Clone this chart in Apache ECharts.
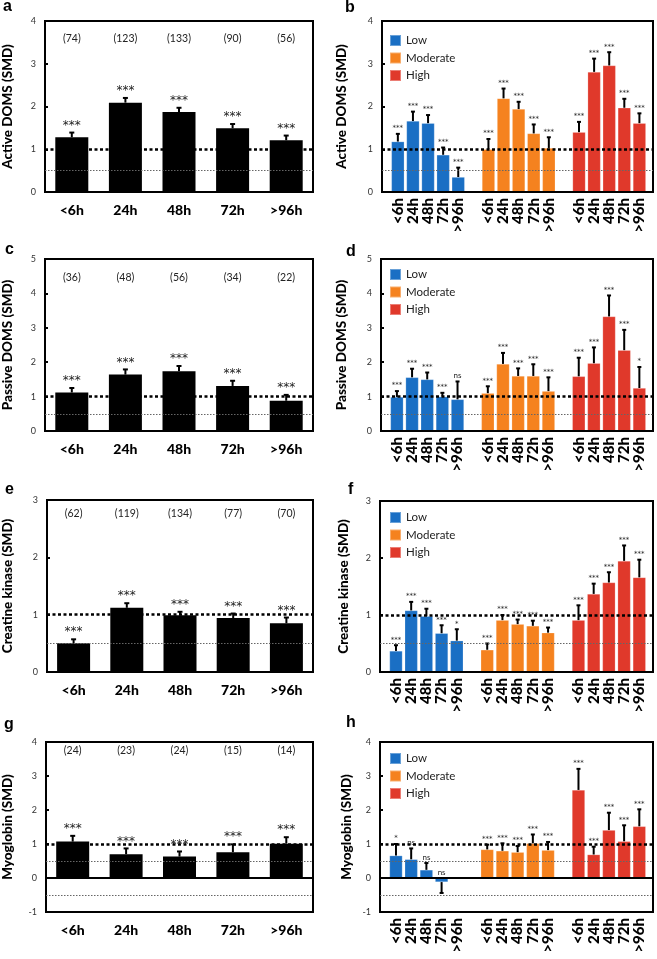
<!DOCTYPE html>
<html><head><meta charset="utf-8">
<script src="https://cdn.jsdelivr.net/npm/echarts@6/dist/echarts.min.js"></script>
<style>html,body{margin:0;padding:0;background:#fff}#c{width:657px;height:959px}</style>
</head><body><div id="c"></div>
<script>
const timeLabels = ['<6h','24h','48h','72h','>96h'];
const groupNames = ['Low','Moderate','High'];
const groupColors = ['#1a6fc4','#f5821f','#e0392b'];

// a: Active DOMS, all
const activeAll = [1.28,2.09,1.87,1.49,1.21];
const activeAllErr = [1.39,2.20,1.97,1.59,1.32];
const activeAllN = [74,123,133,90,56];
const activeAllSig = ['***','***','***','***','***'];
// b: Active DOMS by intensity
const activeLow = [1.18,1.66,1.61,0.87,0.35];
const activeLowErr = [1.36,1.88,1.80,1.04,0.57];
const activeLowSig = ['***','***','***','***','***'];
const activeMod = [1.00,2.19,1.94,1.37,1.03];
const activeModErr = [1.24,2.42,2.11,1.58,1.28];
const activeModSig = ['***','***','***','***','***'];
const activeHigh = [1.40,2.81,2.96,1.97,1.61];
const activeHighErr = [1.64,3.12,3.27,2.18,1.84];
const activeHighSig = ['***','***','***','***','***'];

// c: Passive DOMS, all
const passiveAll = [1.12,1.64,1.74,1.31,0.88];
const passiveAllErr = [1.25,1.79,1.89,1.46,1.05];
const passiveAllN = [36,48,56,34,22];
const passiveAllSig = ['***','***','***','***','***'];
// d
const passiveLow = [0.99,1.56,1.50,1.00,0.92];
const passiveLowErr = [1.16,1.81,1.70,1.11,1.44];
const passiveLowSig = ['***','***','***','***','ns'];
const passiveMod = [1.10,1.95,1.60,1.60,1.16];
const passiveModErr = [1.30,2.27,1.82,1.94,1.56];
const passiveModSig = ['***','***','***','***','***'];
const passiveHigh = [1.59,1.97,3.33,2.35,1.25];
const passiveHighErr = [2.13,2.43,3.94,2.94,1.86];
const passiveHighSig = ['***','***','***','***','*'];

// e: Creatine kinase, all
const ckAll = [0.50,1.12,0.99,0.94,0.85];
const ckAllErr = [0.57,1.20,1.05,1.02,0.95];
const ckAllN = [62,119,134,77,70];
const ckAllSig = ['***','***','***','***','***'];
// f
const ckLow = [0.37,1.08,0.98,0.68,0.55];
const ckLowErr = [0.47,1.23,1.11,0.82,0.75];
const ckLowSig = ['***','***','***','***','*'];
const ckMod = [0.39,0.91,0.84,0.81,0.69];
const ckModErr = [0.50,1.00,0.92,0.90,0.78];
const ckModSig = ['***','***','***','***','***'];
const ckHigh = [0.91,1.37,1.57,1.95,1.66];
const ckHighErr = [1.17,1.55,1.75,2.22,1.97];
const ckHighSig = ['***','***','***','***','***'];

// g: Myoglobin, all
const mbAll = [1.07,0.70,0.63,0.76,1.01];
const mbAllErr = [1.24,0.87,0.78,0.99,1.20];
const mbAllN = [24,23,24,15,14];
const mbAllSig = ['***','***','***','***','***'];
// h
const mbLow = [0.66,0.55,0.24,-0.12,null];
const mbLowErr = [1.00,0.87,0.44,-0.44,null];
const mbLowSig = ['*','ns','ns','ns',''];
const mbMod = [0.84,0.80,0.76,1.02,0.82];
const mbModErr = [0.98,1.02,0.94,1.28,1.06];
const mbModSig = ['***','***','***','***','***'];
const mbHigh = [2.59,0.69,1.41,1.08,1.52];
const mbHighErr = [3.21,0.92,1.92,1.55,2.02];
const mbHighSig = ['***','***','***','***','***'];

const FONT = 'Lato';
const layout = [
  {left:41, top:21, width:272, height:171},
  {left:382, top:21, width:271, height:171},
  {left:41, top:259, width:272, height:172},
  {left:381, top:259, width:272, height:172},
  {left:42, top:500, width:271, height:172},
  {left:380, top:501, width:273, height:171},
  {left:42, top:742, width:271, height:170},
  {left:380, top:742, width:273, height:170}
];

const singlePanels = [
  {grid:0, title:'Active DOMS (SMD)', min:0, max:4, vals:activeAll, errs:activeAllErr, n:activeAllN, sig:activeAllSig, nMargin:12, nameGap:30},
  {grid:2, title:'Passive DOMS (SMD)', min:0, max:5, vals:passiveAll, errs:passiveAllErr, n:passiveAllN, sig:passiveAllSig, nMargin:13, nameGap:30},
  {grid:4, title:'Creatine kinase (SMD)', min:0, max:3, vals:ckAll, errs:ckAllErr, n:ckAllN, sig:ckAllSig, nMargin:8, nameGap:32},
  {grid:6, title:'Myoglobin (SMD)', min:-1, max:4, vals:mbAll, errs:mbAllErr, n:mbAllN, sig:mbAllSig, nMargin:3, nameGap:31}
];
const groupPanels = [
  {grid:1, title:'Active DOMS (SMD)', min:0, max:4, vals:[activeLow,activeMod,activeHigh], errs:[activeLowErr,activeModErr,activeHighErr], sig:[activeLowSig,activeModSig,activeHighSig], legendTop:34, nameGap:33},
  {grid:3, title:'Passive DOMS (SMD)', min:0, max:5, vals:[passiveLow,passiveMod,passiveHigh], errs:[passiveLowErr,passiveModErr,passiveHighErr], sig:[passiveLowSig,passiveModSig,passiveHighSig], legendTop:268, nameGap:32},
  {grid:5, title:'Creatine kinase (SMD)', min:0, max:3, vals:[ckLow,ckMod,ckHigh], errs:[ckLowErr,ckModErr,ckHighErr], sig:[ckLowSig,ckModSig,ckHighSig], legendTop:511, nameGap:29},
  {grid:7, title:'Myoglobin (SMD)', min:-1, max:4, vals:[mbLow,mbMod,mbHigh], errs:[mbLowErr,mbModErr,mbHighErr], sig:[mbLowSig,mbModSig,mbHighSig], legendTop:752, nameGap:26}
];

const grids = layout.map(l => Object.assign({show:true, borderColor:'#000', borderWidth:2, backgroundColor:'transparent'}, l));
const xAxes = [], yAxes = [], series = [], legends = [];

function yAxisFor(p){
  return {gridIndex:p.grid, type:'value', min:p.min, max:p.max, interval:1,
    axisLine:{show:true, onZero:false, lineStyle:{color:'#000', width:2}},
    axisTick:{show:true, inside:true, length:3, lineStyle:{color:'#000', width:2}},
    axisLabel:{fontSize:9, color:'#333', margin:9, fontFamily:FONT},
    splitLine:{show:false},
    name:p.title, nameLocation:'middle', nameGap:p.nameGap,
    nameTextStyle:{fontSize:13.5, fontWeight:900, fontFamily:FONT, color:'#000'}, z:3};
}

function errSeries(xi, yi, data, sigs, o){
  return {type:'custom', xAxisIndex:xi, yAxisIndex:yi, z:4, silent:true, data:data,
    renderItem:function(params, api){
      const x = api.value(0), v = api.value(1), e = api.value(2);
      if (!isFinite(v) || !isFinite(e)) return null;
      const p0 = api.coord([x, v]), p1 = api.coord([x, e]);
      const ch = [
        {type:'line', shape:{x1:p0[0], y1:p0[1], x2:p1[0], y2:p1[1]}, style:{stroke:'#000', lineWidth:o.lw}},
        {type:'line', shape:{x1:p1[0]-o.cap, y1:p1[1], x2:p1[0]+o.cap, y2:p1[1]}, style:{stroke:'#000', lineWidth:o.lw}}
      ];
      const s = sigs[params.dataIndex];
      if (s) {
        const ref = e >= 0 ? p1 : api.coord([x, 0]);
        const isNs = s === 'ns';
        ch.push({type:'text', style:{text:s, x:ref[0], y:ref[1]-o.gap, align:'center', verticalAlign:'bottom',
          font:(isNs ? o.nsSize : o.starSize) + 'px ' + (isNs ? FONT : 'DejaVu Sans'), fill:'#222'}});
      }
      return {type:'group', children:ch};
    }};
}

function refLines(xi, yi, withNeg){
  const data = [
    {yAxis:1, lineStyle:{type:[3,2.5], width:2.5, color:'#000'}},
    {yAxis:0.5, lineStyle:{type:[1.5,1.5], width:1, color:'#666'}}
  ];
  if (withNeg) {
    data.push({yAxis:0, lineStyle:{type:'solid', width:2, color:'#000'}});
    data.push({yAxis:-0.5, lineStyle:{type:[1.5,1.5], width:1, color:'#666'}});
  }
  return {type:'line', xAxisIndex:xi, yAxisIndex:yi, data:[], z:1, silent:true,
    markLine:{silent:true, symbol:'none', label:{show:false}, animation:false, data:data}};
}

singlePanels.forEach(p => {
  const xi = xAxes.length;
  xAxes.push({gridIndex:p.grid, type:'category', data:timeLabels,
    axisLine:{show:true, onZero:false, lineStyle:{color:'#000', width:2}},
    axisTick:{show:false},
    axisLabel:{fontSize:14, fontWeight:900, color:'#000', margin:11, fontFamily:FONT, interval:0}, z:3});
  xAxes.push({gridIndex:p.grid, type:'category', position:'top', data:p.n.map(n => '(' + n + ')'),
    axisLine:{show:false}, axisTick:{show:false},
    axisLabel:{inside:true, margin:p.nMargin, fontSize:10.5, color:'#222', fontFamily:FONT, interval:0}});
  const yi = yAxes.length;
  yAxes.push(yAxisFor(p));
  series.push(refLines(xi, yi, p.min < 0));
  series.push({type:'bar', xAxisIndex:xi, yAxisIndex:yi, data:p.vals, barWidth:33, itemStyle:{color:'#000'}, z:2, silent:true});
  series.push(errSeries(xi, yi, p.vals.map((v,k) => [k, v, p.errs[k]]), p.sig, {lw:2, cap:2.5, gap:1, starSize:12, nsSize:9}));
});

const groupPositions = [];
groupNames.forEach((g, gi) => timeLabels.forEach((t, k) => groupPositions.push(gi*6 + k)));

groupPanels.forEach(p => {
  const xi = xAxes.length;
  xAxes.push({gridIndex:p.grid, type:'value', min:-1.05, max:16.9,
    axisLine:{show:true, onZero:false, lineStyle:{color:'#000', width:2}},
    axisTick:{show:false}, splitLine:{show:false},
    axisLabel:{customValues:groupPositions, formatter:v => timeLabels[Math.round(v) % 6],
      rotate:90, fontSize:15, fontWeight:900, color:'#000', margin:6, fontFamily:FONT}, z:3});
  const yi = yAxes.length;
  yAxes.push(yAxisFor(p));
  series.push(refLines(xi, yi, p.min < 0));
  groupNames.forEach((g, gi) => {
    series.push({name:g, type:'bar', xAxisIndex:xi, yAxisIndex:yi, barWidth:13, barGap:'-100%', z:2, silent:true,
      itemStyle:{color:groupColors[gi], borderColor:'rgba(255,255,255,0.35)', borderWidth:0.6},
      data:p.vals[gi].map((v,k) => [gi*6 + k, v])});
    series.push(errSeries(xi, yi, p.vals[gi].map((v,k) => [gi*6 + k, v, p.errs[gi][k]]), p.sig[gi], {lw:2, cap:2, gap:2, starSize:7, nsSize:8}));
  });
  legends.push({data:groupNames, left:389, top:p.legendTop, orient:'vertical', icon:'rect',
    itemWidth:11, itemHeight:11, itemGap:4.5, padding:0, selectedMode:false,
    textStyle:{fontSize:11.5, lineHeight:11, fontFamily:FONT, color:'#222'}});
});

const letters = [['a',3,15],['b',345,16],['c',5,258],['d',346,260],['e',5,498],['f',348,498],['g',4,733],['h',346,731]];
const graphic = letters.map(l => ({type:'text', left:l[1], top:l[2]-16, style:{text:l[0], font:'bold 16px "Liberation Sans"', fill:'#000'}}));

const chart = echarts.init(document.getElementById('c'), null, {renderer:'canvas'});
chart.setOption({animation:false, grid:grids, xAxis:xAxes, yAxis:yAxes, series:series, legend:legends, graphic:graphic});
</script></body></html>
